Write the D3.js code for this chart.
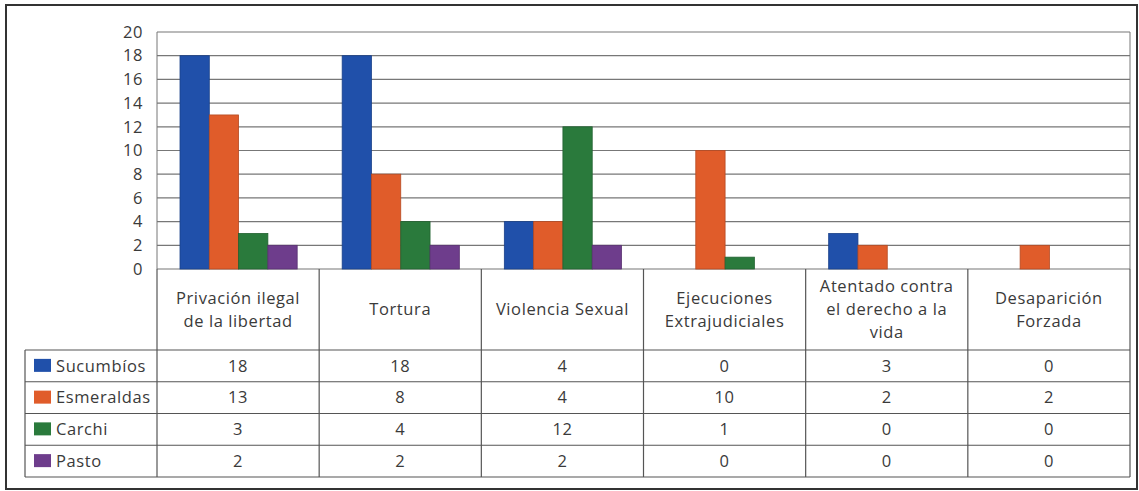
<!DOCTYPE html>
<html>
<head>
<meta charset="utf-8">
<script src="https://cdn.jsdelivr.net/npm/d3@7"></script>
<style>
  body { margin: 0; background: #fff; }
  svg { display: block; font-family: "Open Sans", "Noto Sans", sans-serif; }
  .lbl { font-size: 16.5px; letter-spacing: 0.6px; fill: #3a3a3a; }
</style>
</head>
<body>
<svg id="chart" width="1139" height="491"></svg>
<script>
// ---- data ----
const categories = [
  ['Privación ilegal', 'de la libertad'],
  ['Tortura'],
  ['Violencia Sexual'],
  ['Ejecuciones', 'Extrajudiciales'],
  ['Atentado contra', 'el derecho a la', 'vida'],
  ['Desaparición', 'Forzada']
];
const seriesNames = ['Sucumbíos', 'Esmeraldas', 'Carchi', 'Pasto'];
const sucumbios = [18, 18, 4, 0, 3, 0];
const esmeraldas = [13, 8, 4, 10, 2, 2];
const carchi = [3, 4, 12, 1, 0, 0];
const pasto = [2, 2, 2, 0, 0, 0];
const yTicks = [0, 2, 4, 6, 8, 10, 12, 14, 16, 18, 20];

const colors = ['#2050aa', '#e05c2a', '#2a7a3c', '#6e3d8c'];
const values = [sucumbios, esmeraldas, carchi, pasto];

// ---- layout ----
const svg = d3.select('#chart');
const plotLeft = 157, plotRight = 1130, plotTop = 32, zeroY = 269;
const headerBottom = 350, tableBottom = 477, legendLeft = 25;

const idx = d3.range(categories.length);

const x0 = d3.scaleBand()
  .domain(idx)
  .range([plotLeft, plotRight])
  .padding(0);

const x1 = d3.scaleBand()
  .domain(d3.range(seriesNames.length))
  .range([23, x0.bandwidth() - 22])
  .padding(0);

const y = d3.scaleLinear()
  .domain([0, 20])
  .range([zeroY, plotTop]);

const rowY = d3.scaleBand()
  .domain(d3.range(seriesNames.length))
  .range([headerBottom, tableBottom]);

// outer frame
svg.append('rect')
  .attr('x', 6).attr('y', 5)
  .attr('width', 1131).attr('height', 484)
  .attr('fill', 'none')
  .attr('stroke', '#333')
  .attr('stroke-width', 2);

// gridlines
svg.append('g')
  .selectAll('line')
  .data(yTicks)
  .join('line')
  .attr('x1', plotLeft).attr('x2', plotRight)
  .attr('y1', d => y(d)).attr('y2', d => y(d))
  .attr('stroke', '#777')
  .attr('stroke-width', 1.2);

// plot edges
svg.append('g')
  .selectAll('line')
  .data([plotLeft, plotRight])
  .join('line')
  .attr('x1', d => d).attr('x2', d => d)
  .attr('y1', plotTop).attr('y2', zeroY)
  .attr('stroke', '#777');

// y axis labels
svg.append('g')
  .selectAll('text')
  .data(yTicks)
  .join('text')
  .attr('class', 'lbl')
  .attr('x', 143)
  .attr('y', d => y(d))
  .attr('dy', '0.35em')
  .attr('text-anchor', 'end')
  .text(d => d);

// bars
const groups = svg.append('g')
  .selectAll('g')
  .data(idx)
  .join('g')
  .attr('transform', i => `translate(${x0(i)},0)`);

groups.selectAll('rect')
  .data(i => values.map((v, s) => ({ s, v: v[i] })))
  .join('rect')
  .attr('x', d => x1(d.s))
  .attr('y', d => y(d.v))
  .attr('width', x1.bandwidth())
  .attr('height', d => zeroY - y(d.v))
  .attr('fill', d => colors[d.s])
  .attr('stroke', d => d3.color(colors[d.s]).darker(0.6))
  .attr('stroke-width', d => d.v > 0 ? 0.8 : 0);

// ---- data table ----
const table = svg.append('g')
  .attr('stroke', '#555')
  .attr('stroke-width', 1.2);

// column lines
table.selectAll('.vline')
  .data(d3.range(categories.length + 1))
  .join('line')
  .attr('x1', i => plotLeft + i * x0.bandwidth())
  .attr('x2', i => plotLeft + i * x0.bandwidth())
  .attr('y1', zeroY)
  .attr('y2', tableBottom);

// row lines
table.selectAll('.hline')
  .data(d3.range(seriesNames.length + 1))
  .join('line')
  .attr('x1', legendLeft)
  .attr('x2', plotRight)
  .attr('y1', r => headerBottom + r * rowY.bandwidth())
  .attr('y2', r => headerBottom + r * rowY.bandwidth());

table.append('line')
  .attr('x1', legendLeft).attr('x2', legendLeft)
  .attr('y1', headerBottom).attr('y2', tableBottom);

// category header labels
const lineH = 23;
svg.append('g')
  .selectAll('text')
  .data(idx)
  .join('text')
  .attr('class', 'lbl')
  .attr('text-anchor', 'middle')
  .each(function (i) {
    const lines = categories[i];
    const cy = (zeroY + headerBottom) / 2 - (lines.length - 1) * lineH / 2;
    d3.select(this).selectAll('tspan')
      .data(lines)
      .join('tspan')
      .attr('x', x0(i) + x0.bandwidth() / 2)
      .attr('y', (d, k) => cy + k * lineH)
      .attr('dy', '0.35em')
      .text(d => d);
  });

// legend keys
const legend = svg.append('g')
  .selectAll('g')
  .data(seriesNames)
  .join('g')
  .attr('transform', (d, s) => `translate(0,${rowY(s) + rowY.bandwidth() / 2})`);

legend.append('rect')
  .attr('x', 34).attr('y', -7)
  .attr('width', 17).attr('height', 13)
  .attr('fill', (d, s) => colors[s]);

legend.append('text')
  .attr('class', 'lbl')
  .attr('x', 56)
  .attr('dy', '0.35em')
  .text(d => d);

// cell values
values.forEach((v, s) => {
  svg.append('g')
    .selectAll('text')
    .data(v)
    .join('text')
    .attr('class', 'lbl')
    .attr('x', (d, i) => x0(i) + x0.bandwidth() / 2)
    .attr('y', rowY(s) + rowY.bandwidth() / 2)
    .attr('dy', '0.35em')
    .attr('text-anchor', 'middle')
    .text(d => d);
});
</script>
</body>
</html>
